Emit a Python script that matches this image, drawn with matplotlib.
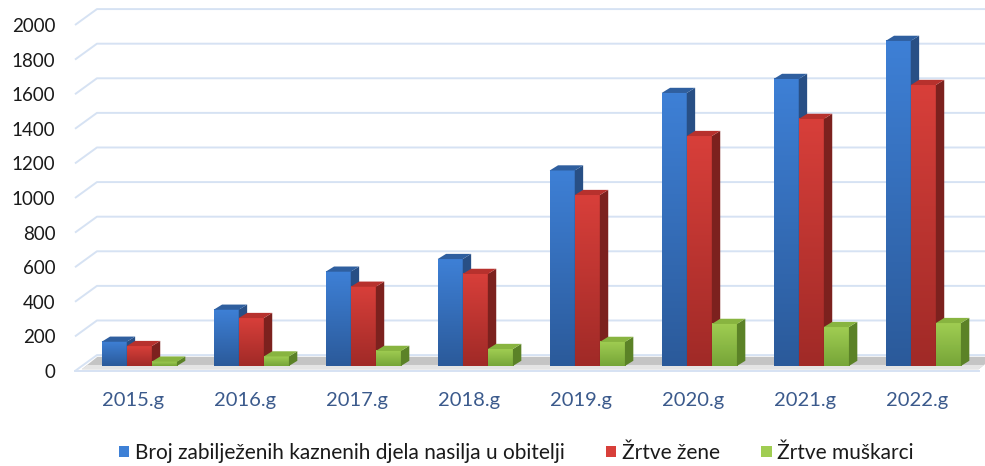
import numpy as np
import matplotlib
matplotlib.use('Agg')
import matplotlib.pyplot as plt
from matplotlib.patches import Polygon, Patch
from matplotlib.colors import LinearSegmentedColormap

# ---- data -------------------------------------------------------------
years = ['2015.g', '2016.g', '2017.g', '2018.g', '2019.g', '2020.g', '2021.g', '2022.g']
kaznena_djela = [140, 325, 545, 618, 1130, 1578, 1659, 1879]
zrtve_zene = [115, 277, 458, 532, 988, 1329, 1428, 1624]
zrtve_muskarci = [25, 55, 87, 98, 139, 243, 225, 248]
series_names = ['Broj zabilježenih kaznenih djela nasilja u obitelji',
                'Žrtve žene', 'Žrtve muškarci']
y_ticks = list(range(0, 2001, 200))

# ---- style ------------------------------------------------------------
plt.rcParams['font.family'] = ['Lato', 'DejaVu Sans']

# (front top, front bottom, side, top face)
palette = [
    ('#3e80d6', '#2b5a9a', '#284f85', '#2f5f9f'),
    ('#d83f3a', '#a02a27', '#7c211e', '#b7312d'),
    ('#a0cd52', '#76a538', '#5b8227', '#88b440'),
]

fig = plt.figure(figsize=(9.85, 4.66), dpi=100)
ax = fig.add_axes([75 / 985, (466 - 371) / 466, 910 / 985, 346 / 466])
X_LEFT, X_RIGHT = -0.518, 7.607
ax.set_xlim(X_LEFT, X_RIGHT)
ax.set_ylim(0, 2000)

# pseudo-3D geometry in data units
WALL_DX, WALL_DY = 0.196, 92      # back wall offset
BASE = 29                          # bars sit mid-depth on the floor
DEPTH_DX, DEPTH_DY = 0.075, 30     # bar depth
BAR_W = 0.224
bar_offsets = [-0.28, -0.056, 0.168]
grid_color = '#d6e2f3'

# back wall gridlines with the left-side diagonals
for v in y_ticks:
    ax.plot([X_LEFT, X_LEFT + WALL_DX, X_RIGHT], [v, v + WALL_DY, v + WALL_DY],
            color=grid_color, lw=1.4, clip_on=False, zorder=1, solid_capstyle='butt')

# floor slab
floor = Polygon([(X_LEFT + 0.06, 10), (7.55, 10), (7.55 + 0.14, 82), (X_LEFT + 0.2, 82)],
                closed=True, facecolor='#c4c4c4', edgecolor='none', zorder=2, clip_on=False)
ax.add_patch(floor)
floor_hi = Polygon([(X_LEFT + 0.06, 10), (7.55, 10), (7.55 + 0.05, 35), (X_LEFT + 0.11, 35)],
                   closed=True, facecolor='#e4e4e4', edgecolor='none', zorder=2, clip_on=False)
ax.add_patch(floor_hi)
ax.plot([X_LEFT, 7.55], [0, 0], color=grid_color, lw=1.4, zorder=2, clip_on=False)

grad = np.linspace(0, 1, 128).reshape(-1, 1)
series = [kaznena_djela, zrtve_zene, zrtve_muskarci]
z = 3
for i in range(len(years)):
    for j, vals in enumerate(series):
        v = vals[i]
        ftop, fbot, side, topc = palette[j]
        x0 = i + bar_offsets[j]
        x1 = x0 + BAR_W
        cmap = LinearSegmentedColormap.from_list('f', [fbot, ftop])
        ax.imshow(grad, extent=[x0, x1, BASE, BASE + v], origin='lower', cmap=cmap,
                  aspect='auto', interpolation='bilinear', zorder=z)
        ax.add_patch(Polygon([(x1, BASE), (x1 + DEPTH_DX, BASE + DEPTH_DY),
                              (x1 + DEPTH_DX, BASE + v + DEPTH_DY), (x1, BASE + v)],
                             closed=True, facecolor=side, edgecolor='none', zorder=z))
        ax.add_patch(Polygon([(x0, BASE + v), (x1, BASE + v),
                              (x1 + DEPTH_DX, BASE + v + DEPTH_DY),
                              (x0 + DEPTH_DX, BASE + v + DEPTH_DY)],
                             closed=True, facecolor=topc, edgecolor='none', zorder=z))
        z += 1

ax.set_xlim(X_LEFT, X_RIGHT)
ax.set_ylim(0, 2000)

ax.set_yticks(y_ticks)
ax.set_yticklabels([str(t) for t in y_ticks], fontsize=13.5, color='#1a1a1a')
ax.set_xticks(range(len(years)))
ax.set_xticklabels(years, fontsize=14.5, color='#3b5a8c')
ax.tick_params(axis='y', length=0, pad=14)
ax.tick_params(axis='x', length=0, pad=15)
for s in ax.spines.values():
    s.set_visible(False)
ax.patch.set_visible(False)

handles = [Patch(facecolor=palette[k][0], edgecolor='none') for k in range(3)]
fig.legend(handles, series_names, loc='center', bbox_to_anchor=(0.524, 0.028),
           ncol=3, frameon=False, fontsize=15, handlelength=0.5, handleheight=0.5,
           handletextpad=0.25, columnspacing=2.0, labelcolor='#1a1a1a')

fig.savefig('out.png', dpi=100)
